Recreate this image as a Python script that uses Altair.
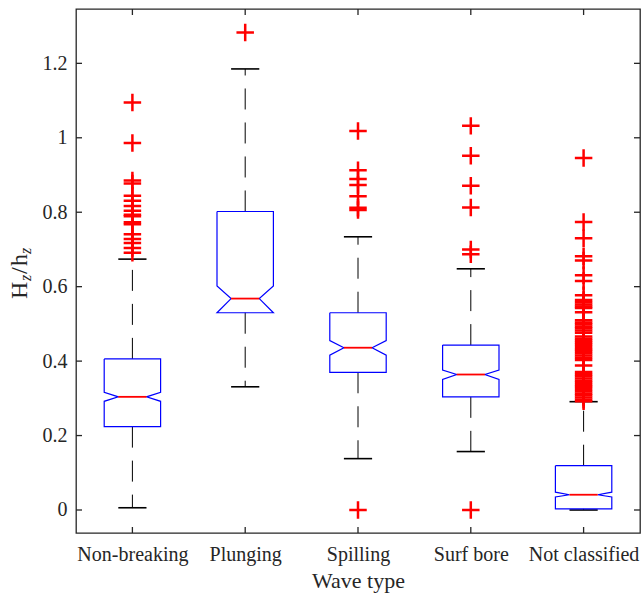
import json
import altair as alt
import pandas as pd

# ---- data -------------------------------------------------------------
categories = ["Non-breaking", "Plunging", "Spilling", "Surf bore", "Not classified"]
q1 = [0.224, 0.530, 0.370, 0.304, 0.003]
median = [0.304, 0.568, 0.436, 0.364, 0.041]
q3 = [0.406, 0.802, 0.530, 0.443, 0.119]
notch_lo = [0.292, 0.530, 0.416, 0.351, 0.035]
notch_hi = [0.316, 0.602, 0.455, 0.376, 0.048]
whisker_lo = [0.006, 0.331, 0.138, 0.157, 0.000]
whisker_hi = [0.674, 1.185, 0.734, 0.648, 0.291]

outliers_nonbreaking = [1.095, 0.986, 0.885, 0.877, 0.844, 0.831, 0.817, 0.804,
                        0.793, 0.789, 0.773, 0.768, 0.741, 0.728, 0.717, 0.704, 0.691]
outliers_plunging = [1.283]
outliers_spilling = [1.018, 0.913, 0.889, 0.873, 0.843, 0.812, 0.806, 0.0]
outliers_surfbore = [1.032, 0.952, 0.871, 0.813, 0.700, 0.687, 0.0]
outliers_notclassified = [0.946, 0.774, 0.730, 0.682, 0.670, 0.631, 0.615, 0.577,
                          0.564, 0.558, 0.552, 0.547, 0.543, 0.531,
                          0.510, 0.504, 0.499, 0.493, 0.488, 0.482, 0.476,
                          0.466, 0.460, 0.455, 0.449, 0.444, 0.438, 0.432, 0.427,
                          0.421, 0.415, 0.409, 0.403, 0.388,
                          0.371, 0.365, 0.359, 0.353, 0.347, 0.342, 0.336,
                          0.331, 0.325, 0.319, 0.313, 0.308, 0.302, 0.296, 0.292]
outliers = [outliers_nonbreaking, outliers_plunging, outliers_spilling,
            outliers_surfbore, outliers_notclassified]

y_ticks = [0, 0.2, 0.4, 0.6, 0.8, 1, 1.2]

# ---- geometry / style -------------------------------------------------
W, H = 564, 524
BOX_HALF = 0.25      # half box width, in category units
NOTCH_HALF = 0.125   # half width at the notch waist
CAP_HALF = 0.125     # half width of whisker caps
FONT = "Liberation Serif"
INK = "#262626"

pos = list(range(1, len(categories) + 1))
xscale = alt.Scale(domain=[0.5, 5.5], nice=False, zero=False)
yscale = alt.Scale(domain=[-0.0618, 1.346], nice=False, zero=False)

# box outline (notched) as ordered polylines
rows = []
for i, c in enumerate(categories):
    p = pos[i]
    pts = [(-BOX_HALF, q3[i]), (BOX_HALF, q3[i]), (BOX_HALF, notch_hi[i]),
           (NOTCH_HALF, median[i]), (BOX_HALF, notch_lo[i]), (BOX_HALF, q1[i]),
           (-BOX_HALF, q1[i]), (-BOX_HALF, notch_lo[i]), (-NOTCH_HALF, median[i]),
           (-BOX_HALF, notch_hi[i]), (-BOX_HALF, q3[i])]
    for k, (dx, v) in enumerate(pts):
        rows.append({"cat": c, "k": k, "x": p + dx, "y": v})
outline = pd.DataFrame(rows)

stats = pd.DataFrame({
    "cat": categories, "p": pos,
    "pl": [p - CAP_HALF for p in pos], "pr": [p + CAP_HALF for p in pos],
    "nl": [p - NOTCH_HALF for p in pos], "nr": [p + NOTCH_HALF for p in pos],
    "q1": q1, "med": median, "q3": q3, "wlo": whisker_lo, "whi": whisker_hi,
})

out_df = pd.DataFrame([{"p": pos[i], "v": v}
                       for i in range(len(categories)) for v in outliers[i]])
ytick_df = pd.DataFrame({"v": y_ticks})
xtick_df = pd.DataFrame({"p": pos})

label_expr = json.dumps(categories) + "[datum.value - 1]"

base = alt.Chart(stats)

x_axis = alt.Axis(values=pos, labelExpr=label_expr, ticks=False, domain=False, grid=False,
                  title="Wave type", labelFont=FONT, labelFontSize=20, labelColor=INK,
                  labelPadding=11, titleFont=FONT, titleFontSize=22, titleFontWeight="normal",
                  titleColor=INK, titlePadding=6)
y_axis = alt.Axis(values=y_ticks, format="~g", ticks=False, domain=False, grid=False,
                  title=None, labelFont=FONT, labelFontSize=20, labelColor=INK,
                  labelPadding=9)

frame_axes = alt.Chart(ytick_df).mark_point(opacity=0).encode(
    x=alt.X("p:Q", scale=xscale, axis=x_axis),
    y=alt.Y("v:Q", scale=yscale, axis=y_axis),
).transform_calculate(p="3")

# whiskers: dashed, drawn from the box edge outwards
whisk_up = base.mark_rule(color="black", strokeWidth=1, strokeDash=[21, 13]).encode(
    x=alt.X("p:Q", scale=xscale), y=alt.Y("q3:Q", scale=yscale), y2="whi:Q")
whisk_dn = base.mark_rule(color="black", strokeWidth=1, strokeDash=[21, 13]).encode(
    x=alt.X("p:Q", scale=xscale), y=alt.Y("q1:Q", scale=yscale), y2="wlo:Q")
cap_up = base.mark_rule(color="black", strokeWidth=1.6).encode(
    x=alt.X("pl:Q", scale=xscale), x2="pr:Q", y=alt.Y("whi:Q", scale=yscale))
cap_dn = base.mark_rule(color="black", strokeWidth=1.6).encode(
    x=alt.X("pl:Q", scale=xscale), x2="pr:Q", y=alt.Y("wlo:Q", scale=yscale))

boxes = alt.Chart(outline).mark_line(color="#0000ff", strokeWidth=1.2).encode(
    x=alt.X("x:Q", scale=xscale), y=alt.Y("y:Q", scale=yscale),
    detail="cat:N", order="k:Q")

medians = base.mark_rule(color="#ff0000", strokeWidth=1.8).encode(
    x=alt.X("nl:Q", scale=xscale), x2="nr:Q", y=alt.Y("med:Q", scale=yscale))

pluses = alt.Chart(out_df).mark_point(
    shape="M-1,0L1,0M0,-1L0,1", size=306, filled=False, color="#ff0000",
    strokeWidth=2.5, opacity=1).encode(
    x=alt.X("p:Q", scale=xscale), y=alt.Y("v:Q", scale=yscale))

# inward ticks on all four sides of the frame
TL = 6
yt_left = alt.Chart(ytick_df).mark_rule(color=INK, strokeWidth=1.3).encode(
    x=alt.value(0), x2=alt.value(TL), y=alt.Y("v:Q", scale=yscale))
yt_right = alt.Chart(ytick_df).mark_rule(color=INK, strokeWidth=1.3).encode(
    x=alt.value(W), x2=alt.value(W - TL), y=alt.Y("v:Q", scale=yscale))
xt_bot = alt.Chart(xtick_df).mark_rule(color=INK, strokeWidth=1.3).encode(
    x=alt.X("p:Q", scale=xscale), y=alt.value(H), y2=alt.value(H - TL))
xt_top = alt.Chart(xtick_df).mark_rule(color=INK, strokeWidth=1.3).encode(
    x=alt.X("p:Q", scale=xscale), y=alt.value(0), y2=alt.value(TL))

# y-axis title  H_z / h_z, rotated, composed from pieces
title_parts = [("H", 0, 0, 24, "normal"), ("z", 18, 4, 16, "italic"),
               ("/", 25, 0, 24, "normal"), ("h", 33, 0, 24, "normal"),
               ("z", 45, 4, 16, "italic")]
ytitle_layers = []
for txt, dx, dy, fs, st in title_parts:
    ytitle_layers.append(
        alt.Chart(xtick_df.head(1)).mark_text(
            text=txt, angle=270, align="left", baseline="alphabetic",
            dx=dx, dy=dy, font=FONT, fontSize=fs, fontStyle=st, color=INK
        ).encode(x=alt.value(-49), y=alt.value(290))
    )

chart = alt.layer(
    frame_axes, whisk_up, whisk_dn, cap_up, cap_dn, boxes, medians, pluses,
    yt_left, yt_right, xt_bot, xt_top, *ytitle_layers
).properties(
    width=W, height=H,
    autosize=alt.AutoSizeParams(type="none"),
    padding={"left": 76, "top": 9, "right": 1, "bottom": 63},
    background="white",
).configure_view(
    stroke=INK, strokeWidth=1.3
)

chart.save("out.html", embed_options={"renderer": "svg", "actions": False})
